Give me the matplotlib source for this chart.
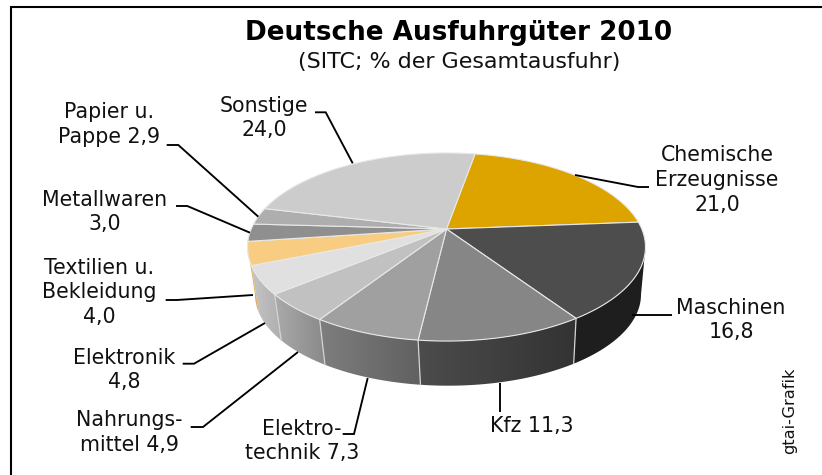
import numpy as np
import matplotlib
matplotlib.use("Agg")
import matplotlib.pyplot as plt
from matplotlib.colors import to_rgb
from matplotlib.patches import Polygon

# ---- data (clockwise from the start angle) ----
categories = ["Chemische\nErzeugnisse", "Maschinen", "Kfz", "Elektro-\ntechnik", "Nahrungs-\nmittel",
              "Elektronik", "Textilien u.\nBekleidung", "Metallwaren", "Papier u.\nPappe", "Sonstige"]
values = [21.0, 16.8, 11.3, 7.3, 4.9, 4.8, 4.0, 3.0, 2.9, 24.0]
label_seps = ["\n", "\n", " ", " ", " ", "\n", "\n", "\n", " ", "\n"]

# ---- styles ----
top_colors = ["#DDA400", "#4D4D4D", "#868686", "#A0A0A0", "#C1C1C1",
              "#E0E0E0", "#F8CD82", "#8F8F8F", "#AEAEAE", "#CCCCCC"]
wall_left = ["#DDA400", "#1E1E1E", "#4C4C4C", "#7E7E7E", "#ABABAB", "#C6C6C6", "#EDB868", "#666666", "#666666", "#666666"]
wall_right = ["#DDA400", "#1E1E1E", "#333333", "#606060", "#888888", "#AEAEAE", "#E0A850", "#666666", "#666666", "#666666"]
label_pos = [(717, 180), (731, 320), (532, 426), (302, 441), (129.5, 432.5),
             (124, 370), (99.5, 292.5), (105, 212), (108.8, 124.5), (264, 118)]
leaders = [
    [(575, 175), (638, 187), (649, 187)],
    [(632, 314.5), (671.5, 314.5)],
    [(500, 383), (500, 412)],
    [(367.7, 378), (354, 434), (342.7, 434)],
    [(298, 352), (203, 427), (190.7, 427)],
    [(265, 323), (194, 363.7), (182.7, 363.7)],
    [(253, 295), (177, 300), (165.7, 300)],
    [(250, 232.7), (187.3, 206), (176, 206)],
    [(258.3, 216.7), (178.3, 145), (166.7, 145)],
    [(352.7, 163.3), (325.7, 112.3), (315, 112.3)],
]
START = 10.0
CX, CY = 446.5, 229.0
A, B, K = 195.3, 90.6, 0.1915
DROP, SHRINK = 48.0, 0.97
FS = 14.8


def project(theta_deg, lower=False):
    """Perspective view of a point on the pie rim, angle clockwise from the top."""
    t = np.radians(theta_deg)
    X, Y = np.sin(t), np.cos(t)
    w = 1 + K * Y
    px, py = A * X / w, -B * Y / w
    if lower:
        return CX + SHRINK * px + 1.5, CY + DROP + SHRINK * py
    return CX + px, CY + py


fig = plt.figure(figsize=(8.22, 4.75), dpi=100, facecolor="white")
ax = fig.add_axes([0, 0, 1, 1])
ax.axis("off")

# frame: only left and top are inside the picture
ax.plot([11, 11, 822], [475, 7, 7], color="black", lw=1.5, solid_joinstyle="miter", zorder=1)

edges = START + np.concatenate([[0], np.cumsum(values)]) * 3.6

# the wall is visible between the two silhouette angles of the projected rim
sil_right = np.degrees(np.arccos(-K))
sil_left = 360.0 - sil_right

# side walls: a horizontal gradient clipped to each slice's wall
for i in range(len(values)):
    a0, a1 = edges[i], edges[i + 1]
    lo, hi = max(a0, sil_right), min(a1, sil_left)
    if lo >= hi:
        continue
    th = np.linspace(lo, hi, 60)
    tx, ty = project(th)
    bx, by = project(th, lower=True)
    xs = np.concatenate([tx, bx[::-1]])
    ys = np.concatenate([ty, by[::-1]])
    clip = Polygon(np.column_stack([xs, ys]), closed=True, transform=ax.transData)
    cr, cl = np.array(to_rgb(wall_right[i])), np.array(to_rgb(wall_left[i]))
    ramp = np.linspace(0, 1, 64)[None, :, None]
    img = cl + (cr - cl) * ramp
    im = ax.imshow(img, extent=[xs.min() - 1, xs.max() + 1, ys.max() + 1, ys.min() - 1],
                   aspect="auto", interpolation="bilinear", zorder=3)
    im.set_clip_path(clip)
    if a1 < 245:
        ax.plot(*zip(project(a1), project(a1, lower=True)), color="#D4D4D4", lw=0.9, zorder=4)

# top faces
for i in range(len(values)):
    th = np.linspace(edges[i], edges[i + 1], 60)
    xs, ys = project(th)
    pts = [(CX, CY)] + list(zip(xs, ys))
    ax.add_patch(Polygon(pts, closed=True, facecolor=top_colors[i], edgecolor="#E8E8E8",
                         lw=0.8, joinstyle="round", zorder=5))

# leaders
for pts in leaders:
    xs, ys = zip(*pts)
    ax.plot(xs, ys, color="black", lw=1.35, solid_joinstyle="miter", solid_capstyle="butt", zorder=6)

# labels
for name, v, sep, pos in zip(categories, values, label_seps, label_pos):
    txt = name + sep + f"{v:.1f}".replace(".", ",")
    ax.text(pos[0], pos[1], txt, ha="center", va="center", multialignment="center",
            fontsize=FS, color="#111111", linespacing=1.29, zorder=7)

ax.text(459, 33, "Deutsche Ausfuhrgüter 2010", ha="center", va="center",
        fontsize=18.9, fontweight="bold", color="black")
ax.text(459, 62, "(SITC; % der Gesamtausfuhr)", ha="center", va="center", fontsize=15.9, color="#111111")
ax.text(790, 411, "gtai-Grafik", ha="center", va="center", rotation=90, fontsize=11.7, color="#111111")

ax.set_xlim(0, 822)
ax.set_ylim(475, 0)
fig.savefig("out.png", dpi=100)
